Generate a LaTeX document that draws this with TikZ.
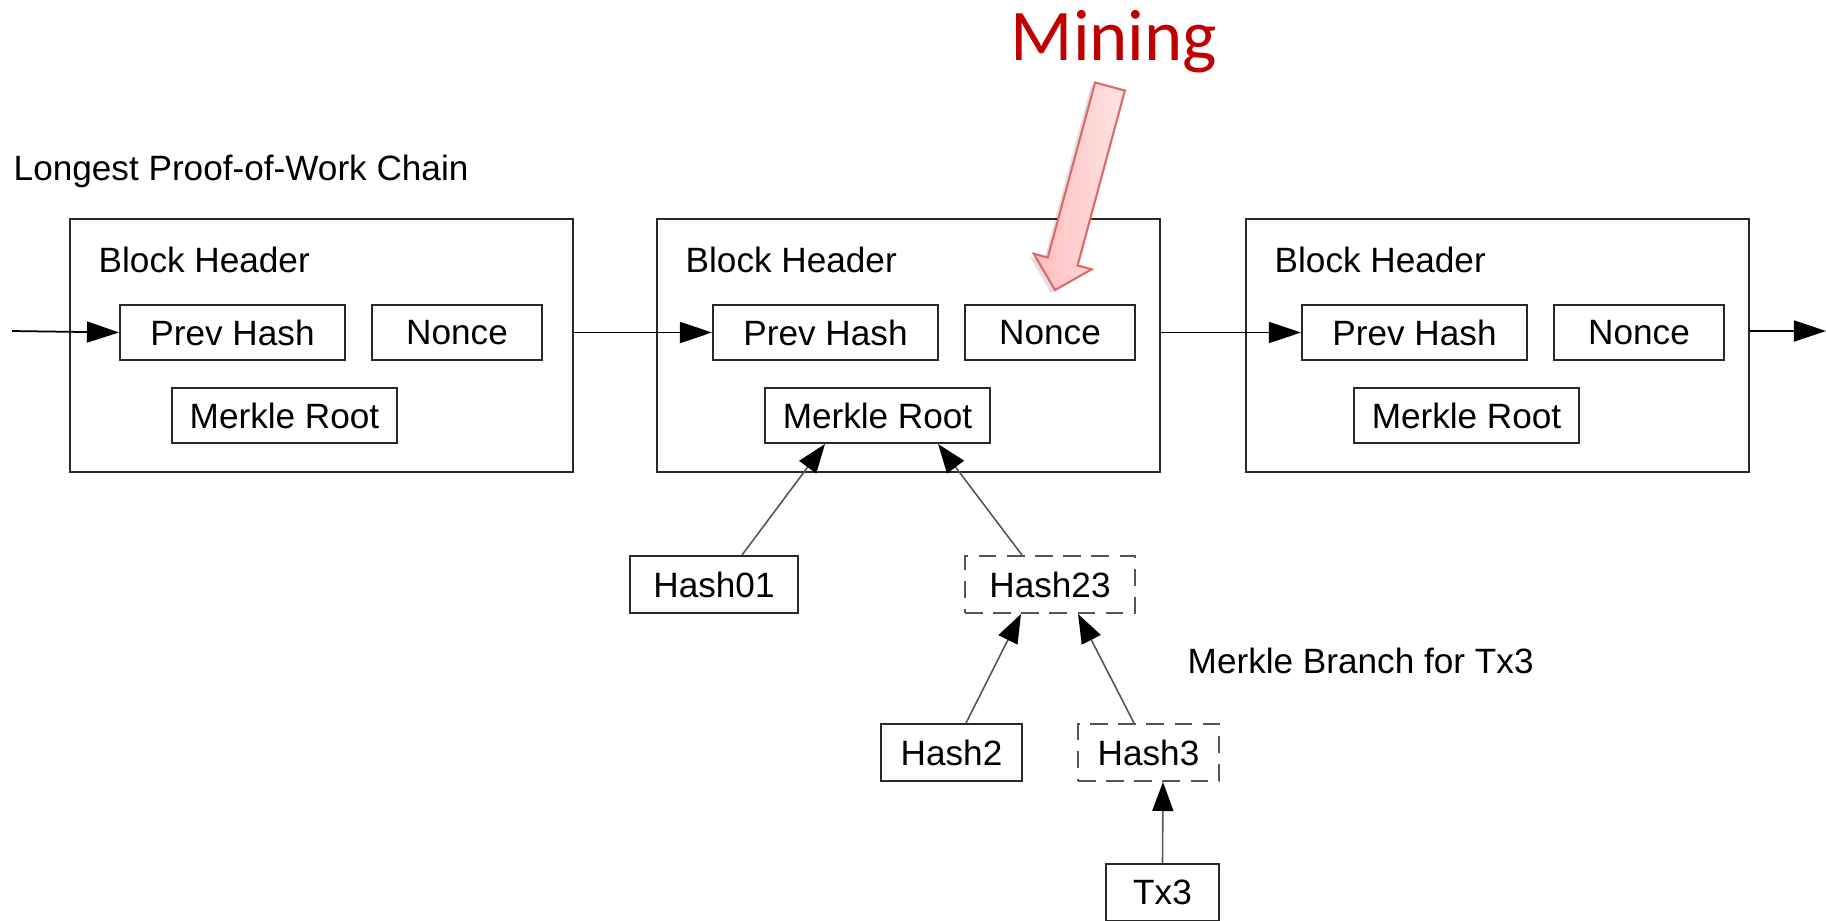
\documentclass[tikz,border=0pt]{standalone}
\usepackage{fontspec}
\setmainfont{Liberation Sans}
\newfontfamily\calibrifont{Carlito}
\usetikzlibrary{arrows.meta}

\definecolor{madenkirmizi}{RGB}{192,0,0}
\definecolor{okkenar}{RGB}{222,105,105}
\definecolor{okdolgu}{RGB}{255,190,190}
\definecolor{okdolguacik}{RGB}{255,228,228}
\definecolor{cizgi}{RGB}{40,40,40}
\definecolor{dalcizgi}{RGB}{85,85,85}

\tikzset{
  kutu/.style={draw=cizgi, line width=0.55pt, inner sep=0pt, anchor=north west,
               minimum height=0.55cm},
  dalkutu/.style={kutu, minimum height=0.57cm},
  kesikkutu/.style={dalkutu, draw=dalcizgi, dash pattern=on 5pt off 3pt},
  zincir/.style={draw=black, line width=0.5pt, -{Triangle[length=0.32cm, width=0.21cm]}},
  dal/.style={draw=dalcizgi, line width=0.45pt,
              -{Triangle[length=0.29cm, width=0.21cm, color=black]}}
}

\begin{document}
\begin{tikzpicture}[x=0.01cm, y=-0.01cm, font=\fontsize{10}{12}\selectfont]

  \useasboundingbox (0,0) rectangle (1826,920);

  % --- Başlık ---
  \node[anchor=base west, inner sep=0pt] (baslik) at (13,180) {Longest Proof-of-Work Chain};

  % --- Bloklar: başlık kutusu + iç alanlar ---
  \foreach \i/\bx/\px in {1/69/119, 2/656/712, 3/1245/1301} {
    \node[kutu, minimum width=5.03cm, minimum height=2.53cm] (b\i) at (\bx,218) {};
    \node[anchor=base west, inner sep=0pt] (bh\i) at (\bx+29,272) {Block Header};
    \node[kutu, minimum width=2.25cm] (ph\i) at (\px,304) {Prev Hash};
    \node[kutu, minimum width=1.70cm] (nc\i) at (\px+252,304) {Nonce};
    \node[kutu, minimum width=2.25cm] (mr\i) at (\px+52,387) {Merkle Root};
  }

  % --- Zincir okları ---
  \coordinate (giris) at (12,331);
  \coordinate (cikis) at (1826,331);
  \draw[zincir] (giris) -- (ph1.west);
  \draw[zincir] (b1.east |- ph2.west) -- (ph2.west);
  \draw[zincir] (b2.east |- ph3.west) -- (ph3.west);
  \draw[zincir] (b3.east |- cikis) -- (cikis);

  % --- Merkle dalı (kesikli kutular: Tx3 yolu) ---
  \node[dalkutu, minimum width=1.68cm] (h01) at (629,555) {Hash01};
  \node[kesikkutu, minimum width=1.70cm] (h23) at (964,555) {Hash23};
  \node[dalkutu, minimum width=1.41cm] (h2) at (880,723) {Hash2};
  \node[kesikkutu, minimum width=1.41cm] (h3) at (1077,723) {Hash3};
  \node[dalkutu, minimum width=1.13cm] (tx3) at (1105,863) {Tx3};
  \node[anchor=base west, inner sep=0pt] (dalyazi) at (1187,673) {Merkle Branch for Tx3};

  \draw[dal] ([xshift=0.28cm]h01.north) -- ([xshift=-0.525cm]mr2.south);
  \draw[dal] ([xshift=-0.28cm]h23.north) -- ([xshift=0.605cm]mr2.south);
  \draw[dal] ([xshift=0.145cm]h2.north) -- ([xshift=-0.29cm]h23.south);
  \draw[dal] ([xshift=-0.145cm]h3.north) -- ([xshift=0.28cm]h23.south);
  \draw[dal] (tx3.north) -- ([xshift=0.145cm]h3.south);

  % --- Madencilik etiketi ve kalın ok (Nonce'a doğru) ---
  \node[anchor=base, inner sep=0pt, text=madenkirmizi,
        font=\calibrifont\fontsize{20.7}{24}\selectfont] (mining) at (1114,60) {Mining};

  \fill[black, opacity=0.12] (1091,85) -- (1121,93) -- (1074,268) -- (1088,272)
    -- (1051,293) -- (1030,257) -- (1044,260) -- cycle;
  \draw[draw=okkenar, line width=0.6pt, left color=okdolgu, right color=okdolguacik]
    (1095.1,82.5) -- (1124.9,90.5) -- (1077.6,265.5) -- (1091.7,269.3)
    -- (1055,290) -- (1033.7,253.7) -- (1047.8,257.5) -- cycle;

\end{tikzpicture}
\end{document}
